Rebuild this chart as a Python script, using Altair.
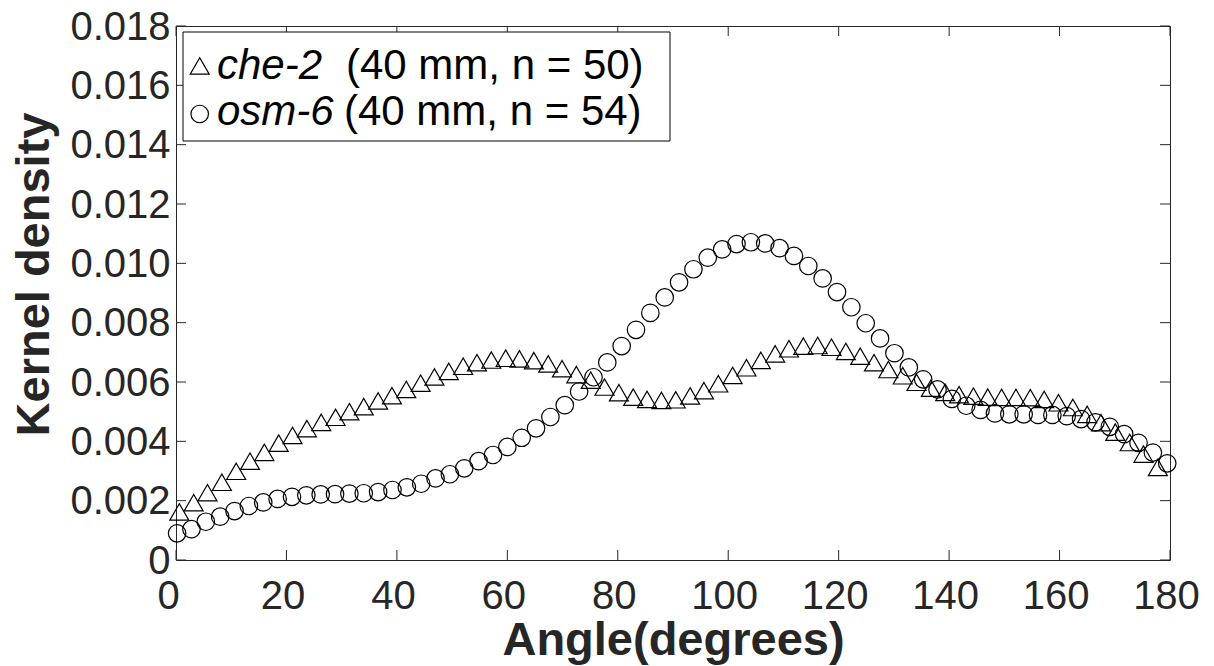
import altair as alt
import pandas as pd

# ---- data ----
che2_angle = [0.6, 3.2, 5.7, 8.3, 10.9, 13.4, 16.0, 18.6, 21.1, 23.7,
              26.3, 28.9, 31.4, 34.0, 36.6, 39.1, 41.7, 44.3, 46.8, 49.4,
              52.0, 54.5, 57.1, 59.7, 62.2, 64.8, 67.4, 69.9, 72.5, 75.1,
              77.6, 80.2, 82.8, 85.3, 87.9, 90.5, 93.1, 95.6, 98.2, 100.8,
              103.3, 105.9, 108.5, 111.0, 113.6, 116.2, 118.7, 121.3, 123.9, 126.4,
              129.0, 131.6, 134.1, 136.7, 139.3, 141.8, 144.4, 147.0, 149.5, 152.1,
              154.7, 157.2, 159.8, 162.4, 165.0, 167.5, 170.1, 172.7, 175.2, 177.8]
che2_density = [0.00162, 0.00193, 0.00227, 0.00262, 0.00299, 0.00333, 0.00363, 0.00394, 0.00420, 0.00443,
                0.00464, 0.00481, 0.00500, 0.00517, 0.00536, 0.00554, 0.00575, 0.00596, 0.00617, 0.00636,
                0.00653, 0.00665, 0.00674, 0.00680, 0.00678, 0.00672, 0.00661, 0.00645, 0.00625, 0.00606,
                0.00583, 0.00564, 0.00549, 0.00541, 0.00538, 0.00540, 0.00553, 0.00571, 0.00594, 0.00622,
                0.00648, 0.00673, 0.00695, 0.00712, 0.00721, 0.00723, 0.00717, 0.00703, 0.00687, 0.00665,
                0.00642, 0.00621, 0.00599, 0.00579, 0.00565, 0.00557, 0.00552, 0.00549, 0.00548, 0.00548,
                0.00547, 0.00541, 0.00530, 0.00514, 0.00491, 0.00463, 0.00431, 0.00396, 0.00357, 0.00312]

osm6_angle = [0.2, 2.8, 5.4, 8.0, 10.6, 13.2, 15.8, 18.4, 21.0, 23.6,
              26.2, 28.8, 31.4, 34.0, 36.6, 39.2, 41.8, 44.4, 47.0, 49.6,
              52.2, 54.8, 57.4, 60.0, 62.6, 65.2, 67.8, 70.4, 73.0, 75.6,
              78.1, 80.7, 83.3, 85.9, 88.5, 91.1, 93.7, 96.3, 98.9, 101.5,
              104.1, 106.7, 109.3, 111.9, 114.5, 117.1, 119.7, 122.3, 124.9, 127.5,
              130.1, 132.7, 135.3, 137.9, 140.5, 143.1, 145.7, 148.3, 150.9, 153.5,
              156.1, 158.7, 161.3, 163.9, 166.5, 169.1, 171.7, 174.3, 176.9, 179.5]
osm6_density = [0.00090, 0.00104, 0.00129, 0.00146, 0.00165, 0.00182, 0.00194, 0.00206, 0.00213, 0.00218,
                0.00221, 0.00222, 0.00224, 0.00225, 0.00229, 0.00236, 0.00245, 0.00257, 0.00275, 0.00289,
                0.00309, 0.00333, 0.00354, 0.00381, 0.00412, 0.00444, 0.00482, 0.00522, 0.00568, 0.00616,
                0.00666, 0.00721, 0.00776, 0.00833, 0.00885, 0.00936, 0.00980, 0.01019, 0.01047, 0.01065,
                0.01071, 0.01067, 0.01051, 0.01025, 0.00991, 0.00949, 0.00903, 0.00852, 0.00798, 0.00747,
                0.00697, 0.00649, 0.00609, 0.00575, 0.00543, 0.00520, 0.00506, 0.00494, 0.00491, 0.00491,
                0.00489, 0.00489, 0.00485, 0.00475, 0.00464, 0.00449, 0.00424, 0.00395, 0.00362, 0.00326]

series_names = ["che-2", "osm-6"]
legend_extra = ["(40 mm, n = 50)", "(40 mm, n = 54)"]
x_ticks = [0, 20, 40, 60, 80, 100, 120, 140, 160, 180]
y_ticks = [0, 0.002, 0.004, 0.006, 0.008, 0.010, 0.012, 0.014, 0.016, 0.018]

# ---- tables ----
df = pd.concat([
    pd.DataFrame({"angle": che2_angle, "density": che2_density, "series": series_names[0]}),
    pd.DataFrame({"angle": osm6_angle, "density": osm6_density, "series": series_names[1]}),
])
xt = pd.DataFrame({"angle": x_ticks})
yt = pd.DataFrame({"density": y_ticks})
one = pd.DataFrame({"k": [0]})

W, H = 994, 534
FONT = "Liberation Sans"
DARK = "#262626"
TICK = 10
LABEL_SIZE = 40
TITLE_SIZE = 47

x_scale = alt.Scale(domain=[0, 180], nice=False, zero=False)
y_scale = alt.Scale(domain=[0, 0.018], nice=False, zero=False)

x_axis = alt.Axis(
    title="Angle(degrees)", values=x_ticks, format="d",
    domain=False, ticks=False, tickSize=0, grid=False,
    labelFont=FONT, labelFontSize=LABEL_SIZE, labelColor=DARK,
    labelPadding=16, labelBaseline="top", labelFlush=False, labelOverlap=False,
    labelOffset={"condition": {"test": "datum.value === 0", "value": -8}, "value": -4},
    titleFont=FONT, titleFontSize=TITLE_SIZE, titleFontWeight="bold", titleColor=DARK,
    titleBaseline="alphabetic", titleY=94,
)
y_axis = alt.Axis(
    title="Kernel density", values=y_ticks,
    domain=False, ticks=False, tickSize=0, grid=False,
    labelFont=FONT, labelFontSize=LABEL_SIZE, labelColor=DARK,
    labelExpr="datum.value === 0 ? '0' : format(datum.value, '.3f')",
    labelPadding=6, labelFlush=False, labelOverlap=False, labelOffset=1,
    titleFont=FONT, titleFontSize=TITLE_SIZE, titleFontWeight="bold", titleColor=DARK,
    titleAngle=270, titleBaseline="alphabetic", titleAlign="center",
    titleX=-128, titleY=248,
)

X = alt.X("angle:Q", scale=x_scale, axis=x_axis)
Y = alt.Y("density:Q", scale=y_scale, axis=y_axis)

points = alt.Chart(df).mark_point(filled=False, strokeWidth=1.2, color="black", opacity=1).encode(
    x=X, y=Y,
    shape=alt.Shape("series:N", scale=alt.Scale(domain=series_names, range=["triangle-up", "circle"]), legend=None),
    size=alt.Size("series:N", scale=alt.Scale(domain=series_names, range=[360, 306]), legend=None),
)

tick_style = dict(color=DARK, strokeWidth=1)
bottom_ticks = alt.Chart(xt).mark_rule(**tick_style).encode(x=X, y=alt.value(H), y2=alt.value(H - TICK))
top_ticks = alt.Chart(xt).mark_rule(**tick_style).encode(x=X, y=alt.value(0), y2=alt.value(TICK))
left_ticks = alt.Chart(yt).mark_rule(**tick_style).encode(y=Y, x=alt.value(0), x2=alt.value(TICK))
right_ticks = alt.Chart(yt).mark_rule(**tick_style).encode(y=Y, x=alt.value(W - TICK), x2=alt.value(W))

# ---- legend box ----
leg_box = alt.Chart(one).mark_rect(fill="white", stroke="black", strokeWidth=1).encode(
    x=alt.value(7), x2=alt.value(494), y=alt.value(6), y2=alt.value(115)
)
leg_tri = alt.Chart(one).mark_point(shape="triangle-up", size=360, filled=False, color="black", strokeWidth=1.2, opacity=1).encode(
    x=alt.value(23.7), y=alt.value(40)
)
leg_circ = alt.Chart(one).mark_point(shape="circle", size=306, filled=False, color="black", strokeWidth=1.2, opacity=1).encode(
    x=alt.value(23.7), y=alt.value(88)
)
txt_it = dict(align="left", baseline="alphabetic", font=FONT, fontSize=42, fontStyle="italic", color="black")
txt_rm = dict(align="left", baseline="alphabetic", font=FONT, fontSize=42, color="black")
leg_t1 = alt.Chart(one).mark_text(**txt_it).encode(x=alt.value(41), y=alt.value(52.5), text=alt.value(series_names[0]))
leg_t2 = alt.Chart(one).mark_text(**txt_rm).encode(x=alt.value(170), y=alt.value(52.5), text=alt.value(legend_extra[0]))
leg_t3 = alt.Chart(one).mark_text(**txt_it).encode(x=alt.value(41), y=alt.value(99), text=alt.value(series_names[1]))
leg_t4 = alt.Chart(one).mark_text(**txt_rm).encode(x=alt.value(168), y=alt.value(99), text=alt.value(legend_extra[1]))

chart = alt.layer(
    bottom_ticks, top_ticks, left_ticks, right_ticks,
    points,
    leg_box, leg_tri, leg_circ, leg_t1, leg_t2, leg_t3, leg_t4,
).properties(
    width=W, height=H,
    background="white",
    autosize=alt.AutoSizeParams(type="none"),
    padding={"left": 168, "top": 18, "right": 30, "bottom": 110},
).configure_view(
    stroke=DARK, strokeWidth=1
).configure_axis(
    domain=False, ticks=False, tickSize=0, grid=False,
    labelFont=FONT, labelFontSize=LABEL_SIZE, labelColor=DARK,
    titleFont=FONT, titleFontSize=TITLE_SIZE, titleFontWeight="bold", titleColor=DARK,
)

chart.save("out.html", embed_options={"renderer": "svg", "actions": False})
